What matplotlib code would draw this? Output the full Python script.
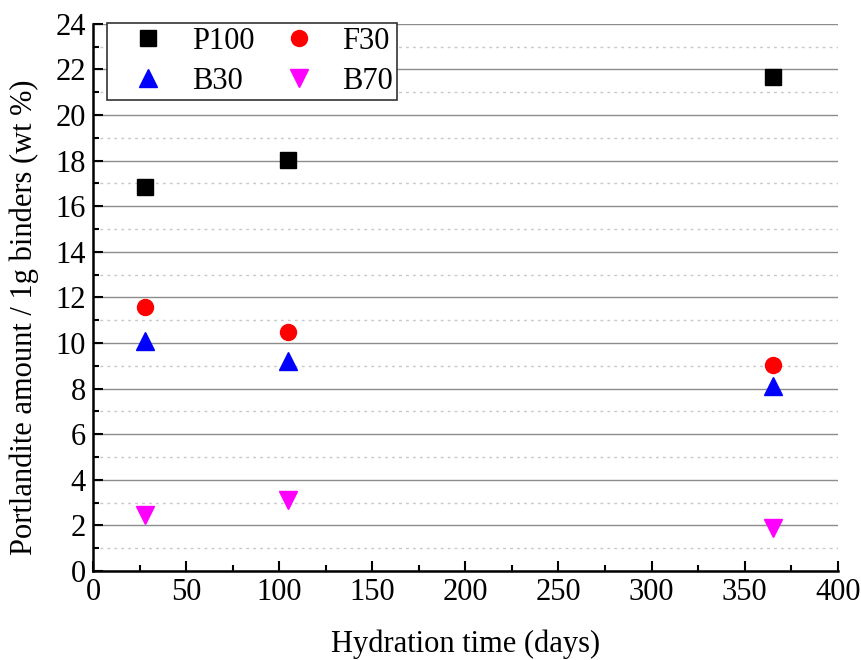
import matplotlib
matplotlib.use('Agg')
import matplotlib.pyplot as plt
from matplotlib.ticker import MultipleLocator

plt.rcParams['font.family'] = ['Liberation Serif', 'DejaVu Serif']

# Hydration time (days)
days = [28, 105, 365]

# Portlandite amount per 1 g binder (wt %)
p100 = [16.85, 18.03, 21.68]
f30 = [11.58, 10.49, 9.04]
b30 = [10.1, 9.2, 8.1]
b70 = [2.46, 3.1, 1.9]

fig = plt.figure(figsize=(8.61, 6.6), dpi=100)
ax = fig.add_axes([0.108, 0.135, 0.865, 0.829])

# grid first, underneath markers
ax.set_axisbelow(True)
ax.yaxis.grid(True, which='major', color='#8c8c8c', linewidth=1.0, linestyle='-')
ax.yaxis.grid(True, which='minor', color='#c8c8c8', linewidth=1.0, linestyle=(0, (2, 3)))

h1, = ax.plot(days, p100, 's', color='black', markersize=11, linestyle='none', label='P100')
h2, = ax.plot(days, f30, 'o', color='red', markersize=11.5, linestyle='none', label='F30')
h3, = ax.plot(days, b30, '^', color='blue', markersize=12.5, linestyle='none', label='B30')
h4, = ax.plot(days, b70, 'v', color='magenta', markersize=12.5, linestyle='none', label='B70')

ax.set_xlim(0, 400)
ax.set_ylim(0, 24)
ax.xaxis.set_major_locator(MultipleLocator(50))
ax.xaxis.set_minor_locator(MultipleLocator(25))
ax.yaxis.set_major_locator(MultipleLocator(2))
ax.yaxis.set_minor_locator(MultipleLocator(1))

for side in ['top', 'right']:
    ax.spines[side].set_visible(False)
for side in ['left', 'bottom']:
    ax.spines[side].set_linewidth(1.8)

ax.tick_params(which='major', direction='in', length=7, width=1.5, labelsize=22, pad=5)
ax.tick_params(which='minor', direction='in', length=4, width=1.5)

ax.set_xlabel('Hydration time (days)', fontsize=22, labelpad=16)
ax.set_ylabel('Portlandite amount / 1g binders (wt %)', fontsize=22)
ax.yaxis.set_label_coords(-0.072, 0.464)

# legend fills column-wise, so order gives rows P100/F30 and B30/B70
leg = ax.legend([h1, h3, h2, h4], ['P100', 'B30', 'F30', 'B70'],
                loc='upper left', ncol=2, fontsize=22, frameon=True, fancybox=False,
                bbox_to_anchor=(0.0188, 1.002), borderaxespad=0, borderpad=0.14,
                labelspacing=0.35, columnspacing=0.25, handletextpad=0.21,
                handlelength=2.42)
leg.get_frame().set_edgecolor('#333333')
leg.get_frame().set_linewidth(1.2)
leg.get_frame().set_alpha(1)

fig.savefig('out.png', dpi=100)
